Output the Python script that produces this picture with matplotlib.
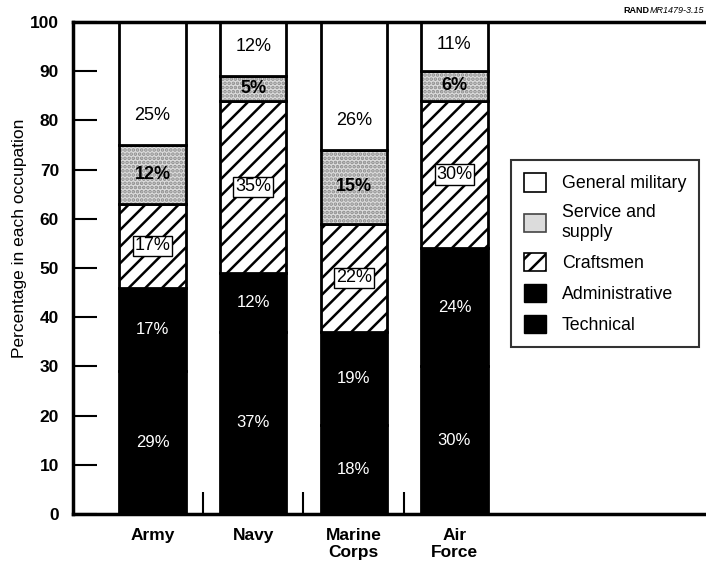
"""Occupation mix by service, stacked bars (RAND MR1479 fig 3.15 style)."""
import matplotlib
matplotlib.use("Agg")
import matplotlib.pyplot as plt  # noqa: E402
from matplotlib.patches import Patch  # noqa: E402

SERVICES = ["Army", "Navy", "Marine\nCorps", "Air\nForce"]
# bottom to top
GROUPS = ["Technical", "Administrative", "Craftsmen", "Service and supply", "General military"]
TECHNICAL = [29, 37, 18, 30]
ADMINISTRATIVE = [17, 12, 19, 24]
CRAFTSMEN = [17, 35, 22, 30]
SERVICE = [12, 5, 15, 6]
GENERAL = [25, 12, 26, 11]

plt.rcParams["font.family"] = ["Liberation Sans", "DejaVu Sans"]
plt.rcParams["hatch.linewidth"] = 1.8

fig = plt.figure(figsize=(7.06, 5.67), dpi=100)
ax = fig.add_axes([0.1034, 0.0935, 0.8966, 0.8677])

x = list(range(len(SERVICES)))
w = 0.66
series = [TECHNICAL, ADMINISTRATIVE, CRAFTSMEN, SERVICE, GENERAL]
bottom = [0] * len(x)
for name, vals in zip(GROUPS, series):
    if name in ("Technical", "Administrative"):
        ax.bar(x, vals, w, bottom=bottom, color="black", edgecolor="black", lw=2)
    elif name == "Craftsmen":
        ax.bar(x, vals, w, bottom=bottom, color="white", edgecolor="black",
               hatch="//", lw=2)
    elif name == "Service and supply":
        ax.bar(x, vals, w, bottom=bottom, color="#dcdcdc", edgecolor="#8c8c8c",
               hatch="....", lw=0)
        ax.bar(x, vals, w, bottom=bottom, fill=False, edgecolor="black", lw=2)
    else:
        ax.bar(x, vals, w, bottom=bottom, color="white", edgecolor="black", lw=2)

    for i, v in enumerate(vals):
        if name == "General military":
            ypos = bottom[i] + min(v / 2, 6)
        else:
            ypos = bottom[i] + v / 2
        lab = f"{v}%"
        if name in ("Technical", "Administrative"):
            ax.text(i, ypos, lab, ha="center", va="center", color="white",
                    fontsize=12, zorder=5)
        elif name == "Craftsmen":
            ax.text(i, ypos, lab, ha="center", va="center", fontsize=13, zorder=5,
                    bbox=dict(boxstyle="square,pad=0.1", fc="white", ec="black", lw=1))
        elif name == "Service and supply":
            ax.text(i, ypos, lab, ha="center", va="center", fontsize=13,
                    fontweight="bold", zorder=5)
        else:
            ax.text(i, ypos, lab, ha="center", va="center", fontsize=13, zorder=5)
    bottom = [b + v for b, v in zip(bottom, vals)]

ax.set_ylim(0, 100)
ax.set_xlim(-0.79, 5.5)
ax.set_yticks(range(0, 101, 10))
ax.set_xticks(x)
ax.set_xticklabels(SERVICES, fontsize=12.5, fontweight="bold")
ax.set_xticks([0.5, 1.5, 2.5], minor=True)
ax.tick_params(axis="x", which="major", length=0, pad=10)
ax.tick_params(axis="x", which="minor", direction="in", length=16, width=1.5)
ax.tick_params(axis="y", direction="in", length=17, width=1.5, pad=10,
               labelsize=12.5)
for t in ax.get_yticklabels():
    t.set_fontweight("bold")
for side in ("left", "bottom", "top"):
    ax.spines[side].set_linewidth(2.5)
ax.spines["right"].set_visible(False)
ax.set_ylabel("Percentage in each occupation", fontsize=12.5)
ax.yaxis.set_label_coords(-0.073, 0.56)

handles = [
    Patch(facecolor="white", edgecolor="black", lw=1.2, label="General military"),
    Patch(facecolor="#dcdcdc", edgecolor="#444444", lw=1.2, label="Service and\nsupply"),
    Patch(facecolor="white", edgecolor="black", hatch="//", lw=1.2, label="Craftsmen"),
    Patch(facecolor="black", edgecolor="black", label="Administrative"),
    Patch(facecolor="black", edgecolor="black", label="Technical"),
]
leg = ax.legend(handles=handles, loc="upper left", bbox_to_anchor=(0.7238, 0.7178),
                bbox_transform=fig.transFigure, fontsize=12.8, frameon=True,
                fancybox=False, edgecolor="black", handlelength=1.2,
                handleheight=1.2, labelspacing=0.66, borderpad=0.75,
                handletextpad=0.9, borderaxespad=0)
leg.get_frame().set_linewidth(1.5)
for t in leg.get_texts():
    t.set_linespacing(1.25)

tag = fig.text(0.997, 0.982, "MR1479-3.15", fontsize=6.5, fontstyle="italic",
               ha="right", va="center")
fig.canvas.draw()
x0 = tag.get_window_extent().x0 / fig.bbox.width
fig.text(x0, 0.982, "RAND", fontsize=6.5, fontweight="bold", ha="right", va="center")

fig.savefig("out.png", dpi=100)
